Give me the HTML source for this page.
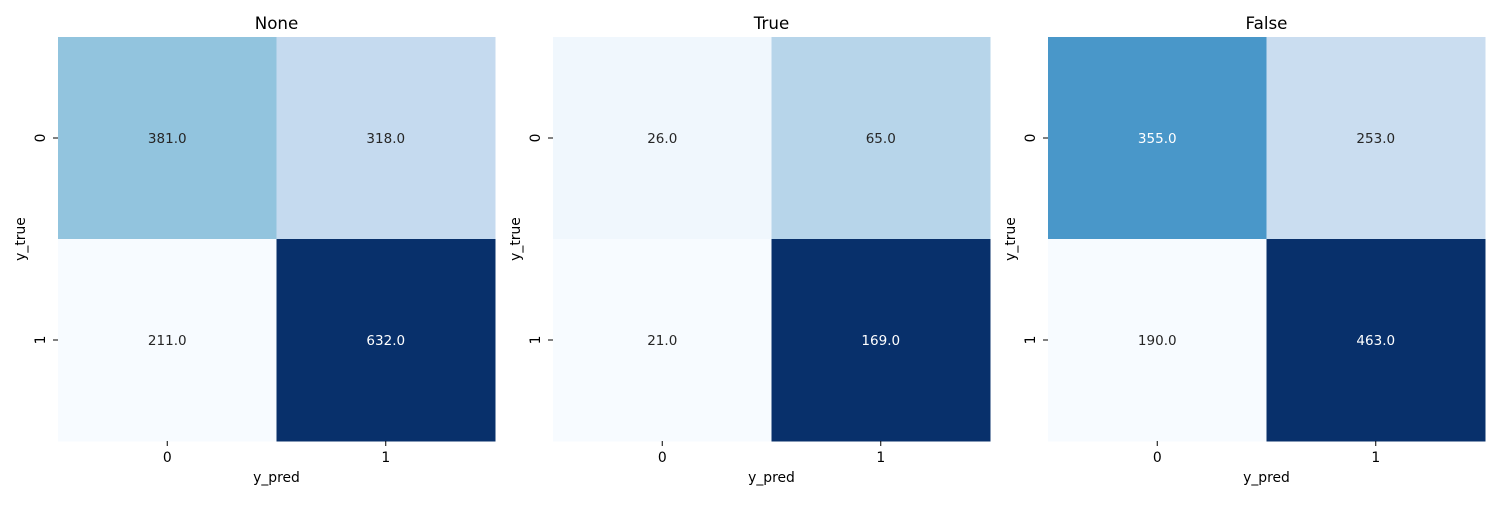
<!DOCTYPE html>
<html><head><meta charset="utf-8">
<style>
body{margin:0;background:#fff;}
svg text{font-family:"DejaVu Sans","Liberation Sans",sans-serif;}
</style></head>
<body>
<svg id="chart" width="1500" height="500" xmlns="http://www.w3.org/2000/svg"></svg>
<script>
const titles = ["None", "True", "False"];
const rowLabels = ["0", "1"];
const colLabels = ["0", "1"];
const valuesNone = [[381, 318], [211, 632]];
const valuesTrue = [[26, 65], [21, 169]];
const valuesFalse = [[355, 253], [190, 463]];
const allValues = [valuesNone, valuesTrue, valuesFalse];

const svg = document.getElementById('chart');
const NS = 'http://www.w3.org/2000/svg';
const panelX = [58, 553, 1048], panelY = 37, panelW = 437, panelH = 404;
const stops = ["#f7fbff","#deebf7","#c6dbef","#9ecae1","#6baed6","#4292c6","#2171b5","#08519c","#08306b"];
function hex(h){return [1,3,5].map(i=>parseInt(h.substr(i,2),16));}
function blues(t){
  t=Math.max(0,Math.min(1,t));
  const p=t*(stops.length-1), i=Math.min(Math.floor(p),stops.length-2), f=p-i;
  const a=hex(stops[i]), b=hex(stops[i+1]);
  return a.map((v,k)=>Math.round(v+(b[k]-v)*f));
}
function lum(c){
  const l=c.map(v=>{v/=255;return v<=0.03928?v/12.92:Math.pow((v+0.055)/1.055,2.4);});
  return 0.2126*l[0]+0.7152*l[1]+0.0722*l[2];
}
function mk(tag, attrs, txt){
  const e=document.createElementNS(NS,tag);
  for(const k in attrs) e.setAttribute(k, attrs[k]);
  if(txt!==undefined) e.textContent=txt;
  svg.appendChild(e); return e;
}
allValues.forEach((vals, p) => {
  const x0=panelX[p];
  const flat=vals.flat(), mn=Math.min(...flat), mx=Math.max(...flat);
  const cw=panelW/colLabels.length, ch=panelH/rowLabels.length;
  const xs=j=>x0+j*cw, ys=i=>panelY+i*ch;
  vals.forEach((row,i)=>row.forEach((v,j)=>{
    const c=blues((v-mn)/(mx-mn));
    const r=mk('rect',{x:xs(j),y:ys(i),width:cw+0.5,height:ch+0.5,fill:`rgb(${c.join(',')})`});
    
    
    const t=mk('text',{x:xs(j)+cw/2,y:ys(i)+ch/2+5,'text-anchor':'middle','font-size':13.5,fill:lum(c)>0.408?'#262626':'#ffffff'},v.toFixed(1));
    
    
  }));
  const tt=mk('text',{x:x0+panelW/2,y:29,'text-anchor':'middle','font-size':16.7,fill:'#000'},titles[p]);
  
  
  rowLabels.forEach((l,i)=>{
    const cy=ys(i)+ch/2;
    mk('line',{x1:x0-5,x2:x0,y1:cy,y2:cy,stroke:'#000','stroke-width':1});
    const t=mk('text',{x:0,y:0,'text-anchor':'middle','font-size':13.9,fill:'#000',transform:`translate(${x0-13},${cy}) rotate(-90)`},l);
    
    
  });
  colLabels.forEach((l,j)=>{
    const cx=xs(j)+cw/2;
    mk('line',{x1:cx,x2:cx,y1:panelY+panelH,y2:panelY+panelH+5,stroke:'#000','stroke-width':1});
    const t=mk('text',{x:cx,y:panelY+panelH+21,'text-anchor':'middle','font-size':13.9,fill:'#000'},l);
    
    
  });
  const xl=mk('text',{x:x0+panelW/2,y:482,'text-anchor':'middle','font-size':13.9,fill:'#000'},'y_pred');
  
  
  const yl=mk('text',{x:0,y:0,'text-anchor':'middle','font-size':13.9,fill:'#000',transform:`translate(${x0-33},${panelY+panelH/2}) rotate(-90)`},'y_true');
  
  
});
</script>
</body></html>
